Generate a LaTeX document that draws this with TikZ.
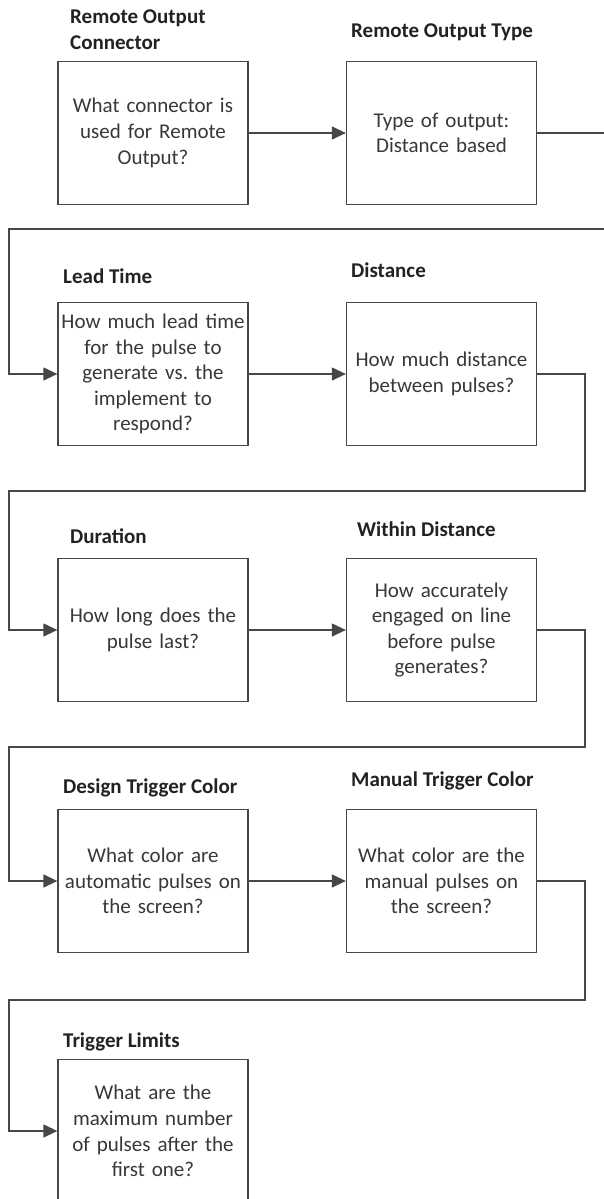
\documentclass[tikz,border=0pt]{standalone}
\usepackage{fontspec}
\setmainfont{Carlito}
\usetikzlibrary{arrows.meta}
\definecolor{linec}{HTML}{474747}
\definecolor{txtc}{HTML}{383838}
\definecolor{lblc}{HTML}{222222}
\frenchspacing
\begin{document}
\begin{tikzpicture}[x=1pt,y=-1pt,
  qbox/.style={draw=linec, line width=1.3pt, fill=white, minimum width=190pt, minimum height=143pt,
    inner sep=0pt, text width=188pt, align=center, text=txtc, font=\fontsize{21}{25.6}\selectfont},
  lbl/.style={anchor=base west, inner sep=0pt, text=lblc, font=\bfseries\fontsize{21}{25}\selectfont},
  flow/.style={draw=linec, line width=1.3pt, -{Triangle[length=14pt,width=13pt]}}]
\useasboundingbox (0,0) rectangle (603,1199);
\fill[white] (0,0) rectangle (603,1199);

% boxes
\node[qbox] (b1) at (153,133) {What connector is\\used for Remote\\Output?};
\node[qbox] (b2) at (441.5,133) {Type of output:\\Distance based};
\node[qbox] (b3) at (153,374) {How much lead time\\for the pulse to\\generate vs.\ the\\implement to\\respond?};
\node[qbox] (b4) at (441.5,374) {How much distance\\between pulses?};
\node[qbox] (b5) at (153,630) {How long does the\\pulse last?};
\node[qbox] (b6) at (441.5,630) {How accurately\\engaged on line\\before pulse\\generates?};
\node[qbox] (b7) at (153,881) {What color are\\automatic pulses on\\the screen?};
\node[qbox] (b8) at (441.5,881) {What color are the\\manual pulses on\\the screen?};
\node[qbox] (b9) at (153,1131) {What are the\\maximum number\\of pulses after the\\first one?};

% labels
\node[lbl] (l1a) at (70,24) {Remote Output};
\node[lbl] (l1b) at (70,49) {Connector};
\node[lbl] (l2) at (351,38) {Remote Output Type};
\node[lbl] (l3) at (63,283) {Lead Time};
\node[lbl] (l4) at (351,277) {Distance};
\node[lbl] (l5) at (70,543) {Duration};
\node[lbl] (l6) at (357,536) {Within Distance};
\node[lbl] (l7) at (63,793) {Design Trigger Color};
\node[lbl] (l8) at (351,786) {Manual Trigger Color};
\node[lbl] (l9) at (63,1047) {Trigger Limits};

% bend points
\coordinate (e1) at (640,229);
\coordinate (w1) at (9,229);
\coordinate (e2) at (585,491);
\coordinate (w2) at (9,491);
\coordinate (e3) at (585,747);
\coordinate (w3) at (9,747);
\coordinate (e4) at (585,1000);
\coordinate (w4) at (9,1000);

% connectors
\draw[flow] (b1.east) -- (b2.west);
\draw[flow] (b2.east) -| (e1) -- (w1) |- (b3.west);
\draw[flow] (b3.east) -- (b4.west);
\draw[flow] (b4.east) -| (e2) -- (w2) |- (b5.west);
\draw[flow] (b5.east) -- (b6.west);
\draw[flow] (b6.east) -| (e3) -- (w3) |- (b7.west);
\draw[flow] (b7.east) -- (b8.west);
\draw[flow] (b8.east) -| (e4) -- (w4) |- (b9.west);
\end{tikzpicture}
\end{document}
